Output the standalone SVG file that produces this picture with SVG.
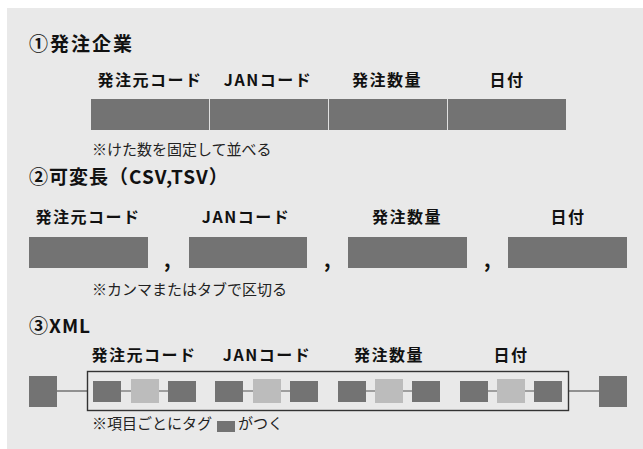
<svg xmlns="http://www.w3.org/2000/svg" width="643" height="449" viewBox="0 0 643 449">
<style>
text{font-family:"Noto Sans CJK JP","Noto Sans",sans-serif;fill:#111}
.title{font-size:19px;font-weight:bold;letter-spacing:2px}
.head{font-size:16px;font-weight:bold;letter-spacing:1.5px;text-anchor:middle}
.note{font-size:15px;fill:#222}
.comma{font-size:20px;font-weight:bold}
.bar{fill:#737373}
.lt{fill:#bcbcbc}
.div{stroke:#e0e0e0;stroke-width:1}
.ln{stroke:#555;stroke-width:1.2}
</style>
<rect x="7" y="8" width="636" height="441" fill="#e9e9e9"/>

<g id="sec1">
<text class="title" x="29" y="51">①発注企業</text>
<text class="head" x="150" y="86">発注元コード</text>
<text class="head" x="268" y="86">JANコード</text>
<text class="head" x="387" y="86">発注数量</text>
<text class="head" x="507" y="86">日付</text>
<rect class="bar" x="91" y="99" width="475" height="31"/>
<line class="div" x1="209.5" y1="99" x2="209.5" y2="130"/>
<line class="div" x1="328.5" y1="99" x2="328.5" y2="130"/>
<line class="div" x1="447.5" y1="99" x2="447.5" y2="130"/>
<text class="note" x="92" y="155">※けた数を固定して並べる</text>
</g>

<g id="sec2">
<text class="title" x="29" y="184" style="letter-spacing:1px">②可変長（CSV,TSV）</text>
<text class="head" x="88" y="223">発注元コード</text>
<text class="head" x="246" y="223">JANコード</text>
<text class="head" x="407" y="223">発注数量</text>
<text class="head" x="568" y="223">日付</text>
<rect class="bar" x="29" y="237" width="119" height="31"/>
<rect class="bar" x="189" y="237" width="118" height="31"/>
<rect class="bar" x="348" y="237" width="119" height="31"/>
<rect class="bar" x="508" y="237" width="119" height="31"/>
<text class="comma" x="164" y="267">,</text>
<text class="comma" x="324" y="267">,</text>
<text class="comma" x="484" y="267">,</text>
<text class="note" x="92" y="295">※カンマまたはタブで区切る</text>
</g>

<g id="sec3">
<text class="title" x="29" y="333" style="letter-spacing:1px">③XML</text>
<text class="head" x="144" y="361">発注元コード</text>
<text class="head" x="267" y="361">JANコード</text>
<text class="head" x="389" y="361">発注数量</text>
<text class="head" x="511" y="361">日付</text>
<g id="connectors">
<line class="ln" x1="57" y1="391" x2="87" y2="391"/>
<line class="ln" x1="569" y1="391" x2="599" y2="391"/>
<line class="ln" x1="121" y1="391" x2="168" y2="391"/>
<line class="ln" x1="243" y1="391" x2="290" y2="391"/>
<line class="ln" x1="366" y1="391" x2="412" y2="391"/>
<line class="ln" x1="488" y1="391" x2="534" y2="391"/>
</g>
<rect x="87.5" y="371.5" width="481" height="39" fill="none" stroke="#333" stroke-width="1.4"/>
<rect class="bar" x="29" y="376" width="28" height="31"/>
<rect class="bar" x="599" y="376" width="28" height="31"/>
<g id="g1"><rect class="bar" x="93" y="381" width="28" height="21"/><rect class="lt" x="131" y="379" width="28" height="24"/><rect class="bar" x="168" y="381" width="28" height="21"/></g>
<g id="g2"><rect class="bar" x="215" y="381" width="28" height="21"/><rect class="lt" x="253" y="379" width="28" height="24"/><rect class="bar" x="290" y="381" width="28" height="21"/></g>
<g id="g3"><rect class="bar" x="338" y="381" width="28" height="21"/><rect class="lt" x="375" y="379" width="28" height="24"/><rect class="bar" x="412" y="381" width="28" height="21"/></g>
<g id="g4"><rect class="bar" x="460" y="381" width="28" height="21"/><rect class="lt" x="497" y="379" width="28" height="24"/><rect class="bar" x="534" y="381" width="28" height="21"/></g>
<text class="note" x="92" y="429">※項目ごとにタグ</text>
<rect class="bar" x="217" y="421" width="18" height="11"/>
<text class="note" x="238" y="429">がつく</text>
</g>
</svg>
